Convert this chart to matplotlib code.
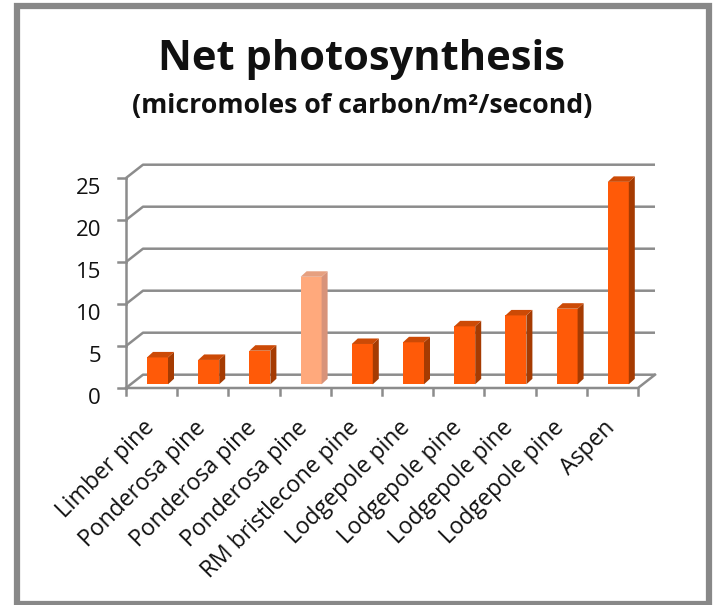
import numpy as np
import matplotlib
matplotlib.use('Agg')
import matplotlib.pyplot as plt
from matplotlib.patches import Polygon, Rectangle

# data
species = ['Limber pine', 'Ponderosa pine', 'Ponderosa pine', 'Ponderosa pine',
           'RM bristlecone pine', 'Lodgepole pine', 'Lodgepole pine',
           'Lodgepole pine', 'Lodgepole pine', 'Aspen']
net_ps = [3.4, 3.1, 4.2, 13.0, 5.0, 5.2, 7.1, 8.4, 9.2, 24.3]
highlight = [False, False, False, True, False, False, False, False, False, False]
yticks = [0, 5, 10, 15, 20, 25]

fonts = ['Open Sans', 'DejaVu Sans']

W, H = 716, 605
fig = plt.figure(figsize=(W / 100, H / 100), dpi=100)

# front plane of the fake 3d box, in pixels
ax_l, ax_r, ax_top, ax_bot = 126, 638, 178, 388
ax = fig.add_axes([ax_l / W, 1 - ax_bot / H, (ax_r - ax_l) / W, (ax_bot - ax_top) / H])
n = len(species)
ymax = 25
ax.set_xlim(0, n)
ax.set_ylim(0, ymax)
ax.axis('off')

# pixel -> data helpers
px_x = n / (ax_r - ax_l)
px_y = ymax / (ax_bot - ax_top)
depth_x, depth_y = 17 * px_x, 13.3 * px_y      # wall depth
bar_off_y = 3.7 * px_y                          # bar front plane
side_x, side_y = 6 * px_x, 5.5 * px_y          # bar thickness

grid_c = '#8c8c8c'
lw = 1.8

# back wall grid lines
for t in yticks:
    ax.plot([0, depth_x, n + depth_x], [t, t + depth_y, t + depth_y],
            color=grid_c, lw=lw, clip_on=False, zorder=1, solid_capstyle='butt')
# floor front edge + right side
ax.plot([0, n, n + depth_x], [0, 0, depth_y], color=grid_c, lw=lw, clip_on=False, zorder=1)
# front vertical axis
ax.plot([0, 0], [0, ymax], color=grid_c, lw=lw, clip_on=False, zorder=1)

# tick marks
for k in range(n + 1):
    ax.plot([k, k], [0, -7 * px_y], color=grid_c, lw=lw, clip_on=False, zorder=1)
for t in yticks:
    ax.plot([0, -8 * px_x], [t, t], color=grid_c, lw=lw, clip_on=False, zorder=1)
    ax.text(-25 * px_x, t - 10 * px_y, str(t), ha='right', va='center',
            fontsize=16, family=fonts, color='#111111')

# bars
x0 = np.arange(n) + 21 * px_x
bw = 21 * px_x
for i in range(n):
    if highlight[i]:
        fc, sc, tc = '#ffa97c', '#d8937a', '#e6a080'
    else:
        fc, sc, tc = '#ff5a08', '#a53b02', '#cc4a06'
    base = bar_off_y
    top = base + net_ps[i] - 0.2
    ax.bar(x0[i], top - base, width=bw, bottom=base, align='edge',
           color=fc, edgecolor='none', zorder=3, clip_on=False)
    xa, xb = x0[i], x0[i] + bw
    ax.add_patch(Polygon([(xb, base), (xb, top), (xb + side_x, top + side_y),
                          (xb + side_x, base + side_y)], closed=True,
                         facecolor=sc, edgecolor='none', zorder=3, clip_on=False))
    ax.add_patch(Polygon([(xa, top), (xb, top), (xb + side_x, top + side_y),
                          (xa + side_x, top + side_y)], closed=True,
                         facecolor=tc, edgecolor='none', zorder=3, clip_on=False))

# category labels
for i, name in enumerate(species):
    ax.text(i + 0.5 - 9 * px_x, -28 * px_y, name, rotation=45, rotation_mode='anchor',
            ha='right', va='top', fontsize=16.5, family=fonts, color='#111111')

# titles
fig.text(361 / W, 1 - 59 / H, 'Net photosynthesis', ha='center', va='center',
         fontsize=30, fontweight='bold', family=fonts, color='#111111')
fig.text(362 / W, 1 - 106 / H, '(micromoles of carbon/m\u00b2/second)', ha='center',
         va='center', fontsize=19.2, fontweight='bold', family=fonts, color='#111111')

# outer frame
fig.patches.append(Rectangle((17 / W, 1 - 603.5 / H), (708.5 - 17) / W, (603.5 - 5.5) / H,
                             transform=fig.transFigure, facecolor='none',
                             edgecolor='#888888', lw=4.5))

fig.savefig('out.png', dpi=100)
